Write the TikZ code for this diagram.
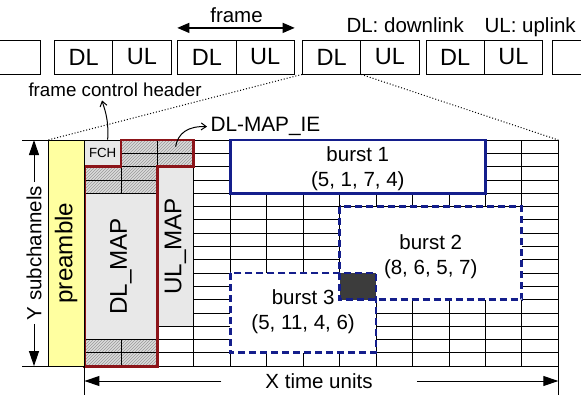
\documentclass[tikz,border=0pt]{standalone}
\usepackage{fontspec}
\setmainfont{Liberation Sans}
\usetikzlibrary{arrows.meta,patterns}
\definecolor{mapred}{RGB}{140,20,25}
\definecolor{burstblue}{RGB}{20,30,140}
\definecolor{preyellow}{RGB}{255,255,160}
\definecolor{darkcell}{RGB}{60,60,60}
\tikzset{
  lbl/.style={font=\fontsize{20.5}{25}\selectfont},
  biglbl/.style={font=\fontsize{24.2}{28}\selectfont, rotate=90},
  frbox/.style={draw, line width=0.8pt, minimum width=58.3pt, minimum height=34pt, inner sep=0pt, font=\fontsize{23.5}{27}\selectfont},
  gridline/.style={line width=0.8pt},
  hatchcell/.style={fill=gray!28, postaction={pattern=north east lines, pattern color=gray!80}},
  graycell/.style={fill=gray!18, draw, line width=0.8pt},
  mapline/.style={draw=mapred, line width=2.8pt, line join=miter},
  burstsolid/.style={draw=burstblue, line width=2.8pt},
  burstdash/.style={draw=burstblue, line width=2.8pt, dash pattern=on 7pt off 4pt},
  bigarrow/.style={line width=1pt, -{Triangle[length=15pt,width=10pt]}},
  midarrow/.style={line width=1.2pt, {Triangle[length=12pt,width=10pt]}-{Triangle[length=12pt,width=10pt]}},
  curvarrow/.style={line width=1pt, -{Straight Barb[length=5pt,width=7pt]}}
}
\begin{document}
\begin{tikzpicture}[x=1pt, y=-1pt]
  \useasboundingbox (0,0) rectangle (581,394);

  % frame sequence
  \draw[line width=0.8pt] (-80,40) rectangle (40.5,74);
  \draw[line width=0.8pt] (552,40) rectangle (680,74);
  \foreach \k/\xs in {0/54.5, 1/177.7, 2/302.5, 3/426}{
    \node[frbox] (dl\k) at (\xs+29.15,57) {DL};
    \node[frbox] (ul\k) at (\xs+87.45,57) {UL};
  }
  \node[lbl, anchor=base] (framelbl) at (236.5,22) {frame};
  \draw[midarrow] ([yshift=11.7pt]dl1.north west) -- ([yshift=11.7pt]ul1.north east);
  \node[lbl, anchor=base west] (legend) at (343,32) {DL: downlink\hspace{15pt} UL: uplink};

  % one DL subframe
  \begin{scope}[shift={(48,140)}, x=36.45pt, y=-13.3pt]
    \coordinate (gridtl) at (0,0);
    \coordinate (gridtr) at (14,0);
    \coordinate (gridbl) at (0,17);
    \coordinate (gridxl) at (1,17);
    \coordinate (gridbr) at (14,17);
    \coordinate (iecell) at (3.5,0.5);

    \path[hatchcell] (2,0) rectangle (4,2);
    \path[hatchcell] (1,2) rectangle (3,4);
    \path[hatchcell] (1,15) rectangle (3,17);

    \foreach \c in {1,...,14} \draw[gridline] (\c,0) -- (\c,17);
    \foreach \r in {0,...,17} \draw[gridline] (1,\r) -- (14,\r);

    \node[graycell, minimum width=36.45pt, minimum height=26.6pt, inner sep=0pt,
      font=\fontsize{13.3}{15}\selectfont] (fch) at (1.5,1) {FCH};
    \path[graycell] (3,2) rectangle (4,14);
    \path[graycell] (1,4) rectangle (3,15);

    % bursts
    \path[fill=white] (5,0) rectangle (12,4);
    \path[fill=white] (8,5) rectangle (13,12);
    \path[fill=white] (5,10) rectangle (9,16);
    \fill[darkcell] (8,10) rectangle (9,12);
    \draw[burstsolid] (5,0) rectangle (12,4);
    \draw[burstdash] (8,5) rectangle (13,12);
    \draw[burstdash] (5,10) rectangle (9,16);
    \node[lbl, align=center] (b1) at (8.5,2.17) {burst 1\\(5, 1, 7, 4)};
    \node[lbl, align=center] (b2) at (10.5,8.74) {burst 2\\(8, 6, 5, 7)};
    \node[lbl, align=center] (b3) at (7,12.93) {burst 3\\(5, 11, 4, 6)};

    \draw[mapline] (1,17) -- (1,2) -- (2,2) -- (2,0) -- (4,0) -- (4,2) -- (3,2) -- (3,17) -- cycle;
    \draw[fill=preyellow, line width=0.8pt] (0,0) rectangle (1,17);
    \node[biglbl] (prelbl) at (0.5,8.5) {preamble};
    \node[biglbl] (dlmap) at (2,9.5) {DL\_MAP};
    \node[biglbl] (ulmap) at (3.5,8) {UL\_MAP};
  \end{scope}

  \draw[dotted, line width=1pt] (dl2.south west) -- (gridtl);
  \draw[dotted, line width=1pt] (dl2.south east) -- (gridtr);

  % axes
  \draw[gridline] (gridtl) -- ++(-26,0);
  \draw[gridline] (gridbl) -- ++(-26,0);
  \node[lbl, rotate=90] (ylbl) at (34,253) {Y subchannels};
  \draw[bigarrow] (ylbl.east) -- (ylbl.east |- gridtl);
  \draw[bigarrow] (ylbl.west) -- (ylbl.west |- gridbl);
  \draw[gridline] (gridxl) -- ++(0,30);
  \draw[gridline] (gridbr) -- ++(0,30);
  \node[lbl, inner xsep=44pt] (xlbl) at (319,381) {X time units};
  \draw[bigarrow] (xlbl.west) -- (xlbl.west -| gridxl);
  \draw[bigarrow] (xlbl.east) -- (xlbl.east -| gridbr);

  % callouts
  \node[font=\fontsize{18.75}{22}\selectfont, anchor=base west] (fchlbl) at (25,96.7) {frame control header};
  \draw[curvarrow] ([xshift=5pt]fch.north) .. controls (109,118) and (104,108) .. ([xshift=-13pt]fchlbl.south);
  \node[font=\fontsize{20.8}{25}\selectfont, anchor=base west] (ielbl) at (207,131.7) {DL-MAP\_IE};
  \draw[curvarrow] (iecell) .. controls (178,133) and (188,126) .. (ielbl.west);
\end{tikzpicture}
\end{document}
